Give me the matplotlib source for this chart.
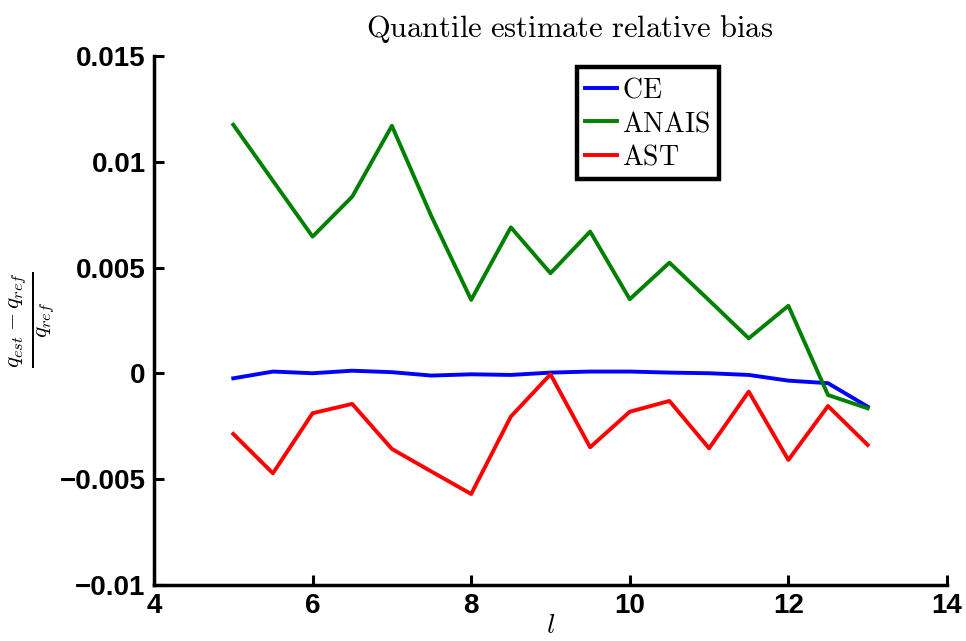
import matplotlib
matplotlib.use("Agg")
import matplotlib.pyplot as plt

plt.rcParams['mathtext.fontset'] = 'cm'

levels = [5, 5.5, 6, 6.5, 7, 7.5, 8, 8.5, 9, 9.5, 10, 10.5, 11, 11.5, 12, 12.5, 13]
ce = [-0.00024, 0.00008, 0.0, 0.00012, 0.00005, -0.00011, -0.00005, -0.00008, 0.00003,
      0.00008, 0.00008, 0.00003, 0.0, -0.00008, -0.00035, -0.00047, -0.00158]
anais = [0.01175, 0.0091, 0.00646, 0.00835, 0.0117, 0.00741, 0.00347, 0.0069, 0.00473,
         0.0067, 0.0035, 0.00523, 0.00345, 0.00165, 0.00319, -0.00103, -0.00166]
ast = [-0.00287, -0.00473, -0.00189, -0.00145, -0.00358, -0.00465, -0.00571, -0.00205, -0.00005,
       -0.0035, -0.00182, -0.00131, -0.00355, -0.00087, -0.0041, -0.00155, -0.00339]

xticks = [4, 6, 8, 10, 12, 14]
yticks = [-0.01, -0.005, 0, 0.005, 0.01, 0.015]
ytick_labels = ['\u22120.01', '\u22120.005', '0', '0.005', '0.01', '0.015']

fig = plt.figure(figsize=(9.66, 6.41), dpi=100)
ax = fig.add_axes([0.1594, 0.0878, 0.8209, 0.8248])

lw = 2.8
ax.plot(levels, ce, color='#0000ff', lw=lw, label=r'$\mathrm{CE}$')
ax.plot(levels, anais, color='#008000', lw=lw, label=r'$\mathrm{ANAIS}$')
ax.plot(levels, ast, color='#ff0000', lw=lw, label=r'$\mathrm{AST}$')

ax.set_xlim(4, 14)
ax.set_ylim(-0.01, 0.015)
ax.set_xticks(xticks)
ax.set_xticklabels([str(t) for t in xticks])
ax.set_yticks(yticks)
ax.set_yticklabels(ytick_labels)

for s in ['top', 'right']:
    ax.spines[s].set_visible(False)
for s in ['left', 'bottom']:
    ax.spines[s].set_linewidth(2.5)
ax.tick_params(direction='in', length=7, width=2.2)
ax.tick_params(axis='x', pad=6)
ax.tick_params(axis='y', pad=6)
for lab in ax.get_xticklabels() + ax.get_yticklabels():
    lab.set_fontfamily('Liberation Sans')
    lab.set_fontweight('bold')
    lab.set_fontsize(20)

ax.set_title(r'$\mathrm{Quantile\ estimate\ relative\ bias}$', fontsize=22, x=0.524, pad=14)
ax.set_xlabel(r'$l$', fontsize=20, labelpad=-6)
ax.set_ylabel(r'$\frac{q_{est} - q_{ref}}{q_{ref}}$', fontsize=24, labelpad=2)

leg = ax.legend(loc='upper left', bbox_to_anchor=(0.533, 0.979), borderaxespad=0,
                fontsize=20, handlelength=1.15, handletextpad=0.2, labelspacing=0.2,
                borderpad=0.3, fancybox=False, framealpha=1)
leg.get_frame().set_edgecolor('black')
leg.get_frame().set_linewidth(3.2)

fig.savefig('out.png', dpi=100)
